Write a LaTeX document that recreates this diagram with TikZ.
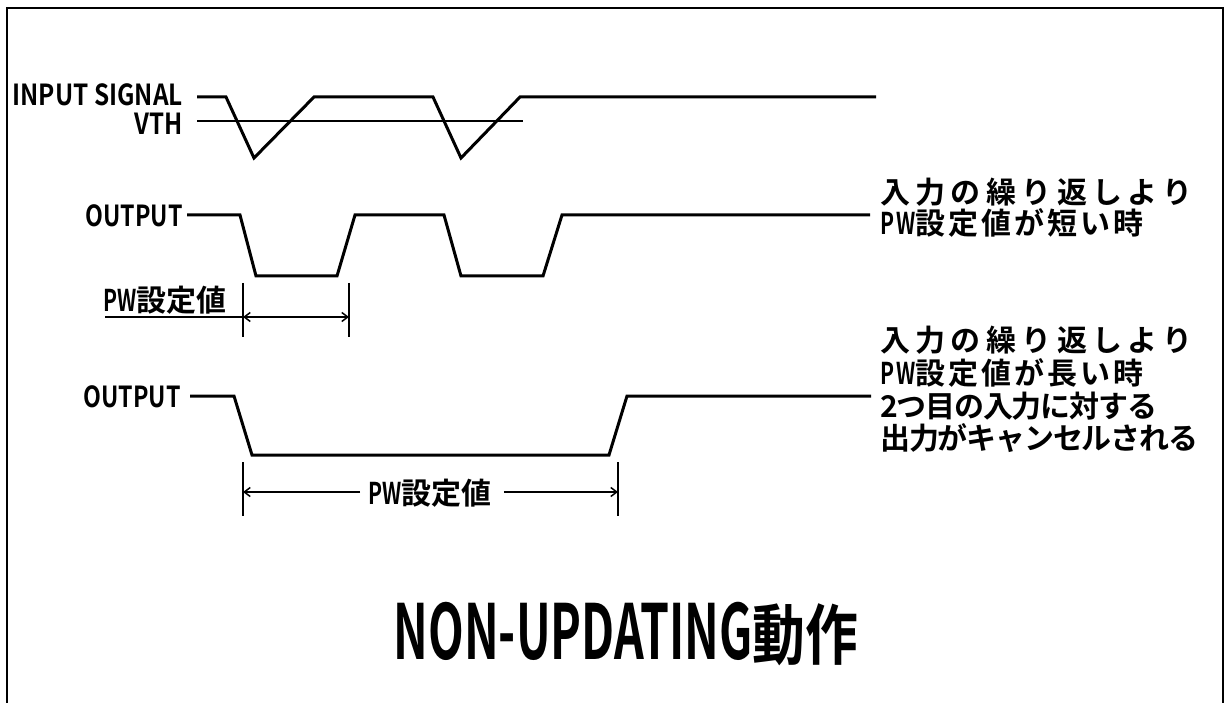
\documentclass[tikz,border=0pt]{standalone}
\usepackage{fontspec}
\setmainfont{Noto Sans CJK JP}[UprightFont={* Bold}]
\usetikzlibrary{arrows.meta}
\begin{document}
\begin{tikzpicture}[x=1pt,y=-1pt,
  sig/.style={line width=3pt, line join=miter},
  thinline/.style={line width=1.5pt},
  dimline/.style={line width=1.3pt},
  tip/.style={-{Straight Barb[length=6pt,width=9pt,line width=1.5pt]}},
  frameline/.style={line width=2.5pt},
  lat/.style={inner sep=0pt, font=\fontsize{29}{29}\selectfont},
  jpsmall/.style={inner sep=0pt, font=\fontsize{30}{30}\selectfont},
  jp/.style={inner sep=0pt, anchor=west, font=\fontsize{30}{30}\selectfont},
  titlefont/.style={inner sep=0pt, font=\fontsize{76}{76}\selectfont},
]
\useasboundingbox (0,0) rectangle (1231,703);
% frame
\draw[frameline] (7,703) -- (7,8) -- (1223,8) -- (1223,703);

% labels
\node[lat, anchor=east] (inlab) at (183,95) {\scalebox{0.84}[1]{INPUT SIGNAL}};
\node[lat, anchor=east] (vth) at (183,124) {\scalebox{0.83}[1]{VTH}};
\node[lat, anchor=east] (out1) at (183,216) {\scalebox{0.8}[1]{OUTPUT}};
\node[lat, anchor=east] (out2) at (181,397) {\scalebox{0.8}[1]{OUTPUT}};

% input signal
\coordinate (i0) at (197,97);
\coordinate (i1) at (226,97);
\coordinate (i2) at (254,158);
\coordinate (i3) at (314,97);
\coordinate (i4) at (433,97);
\coordinate (i5) at (461,158);
\coordinate (i6) at (520,97);
\coordinate (i7) at (876,97);
\draw[sig] (i0) -- (i1) -- (i2) -- (i3) -- (i4) -- (i5) -- (i6) -- (i7);
% threshold
\coordinate (v0) at (197,121);
\coordinate (v1) at (523,121);
\draw[thinline] (v0) -- (v1);

% output 1
\coordinate (a0) at (187,215);
\coordinate (a1) at (240,215);
\coordinate (a2) at (256,276);
\coordinate (a3) at (337,276);
\coordinate (a4) at (355,215);
\coordinate (a5) at (444,215);
\coordinate (a6) at (461,276);
\coordinate (a7) at (543,276);
\coordinate (a8) at (562,215);
\coordinate (a9) at (870,215);
\draw[sig] (a0) -- (a1) -- (a2) -- (a3) -- (a4) -- (a5) -- (a6) -- (a7) -- (a8) -- (a9);

% output 2
\coordinate (b0) at (190,396);
\coordinate (b1) at (234,396);
\coordinate (b2) at (252,455);
\coordinate (b3) at (609,455);
\coordinate (b4) at (627,396);
\coordinate (b5) at (871,396);
\draw[sig] (b0) -- (b1) -- (b2) -- (b3) -- (b4) -- (b5);

% dimension 1
\node[jpsmall] (pw1) at (165,300) {\scalebox{0.7}[1]{PW}設定値};
\coordinate (d1a) at (243,283);
\coordinate (d1b) at (243,337);
\coordinate (d1c) at (349,283);
\coordinate (d1d) at (349,337);
\draw[dimline] (d1a) -- (d1b);
\draw[dimline] (d1c) -- (d1d);
\coordinate (u0) at (105,317);
\coordinate (u1) at (243,317);
\coordinate (u2) at (349,317);
\draw[dimline] (u0) -- (u1);
\draw[dimline, tip] (u2) -- (u1);
\draw[dimline, tip] (u1) -- (u2);

% dimension 2
\node[jpsmall] (pw2) at (430,493) {\scalebox{0.7}[1]{PW}設定値};
\coordinate (e1a) at (243,462);
\coordinate (e1b) at (243,516);
\coordinate (e2a) at (618,462);
\coordinate (e2b) at (618,516);
\draw[dimline] (e1a) -- (e1b);
\draw[dimline] (e2a) -- (e2b);
\coordinate (w1) at (243,492);
\coordinate (w2) at (618,492);
\draw[dimline, tip] (pw2.west) ++(-8,-1) -- (w1);
\draw[dimline, tip] (pw2.east) ++(12,-1) -- (w2);

% notes
\node[jp] (n11) at (880,192) {\addfontfeature{LetterSpace=18}入力の繰り返しより};
\node[jp] (n12) at (880,223) {\addfontfeature{LetterSpace=10}\scalebox{0.7}[1]{PW}設定値が短い時};
\node[jp] (n21) at (880,340) {\addfontfeature{LetterSpace=18}入力の繰り返しより};
\node[jp] (n22) at (880,373) {\addfontfeature{LetterSpace=10}\scalebox{0.7}[1]{PW}設定値が長い時};
\node[jp] (n23) at (880,406) {\addfontfeature{LetterSpace=-4}2つ目の入力に対する};
\node[jp] (n24) at (880,438) {\addfontfeature{LetterSpace=-4}出力がキャンセルされる};

% title
\node[titlefont] (title) at (626,634) {\scalebox{0.61}[1]{NON-UPDATING}\scalebox{0.8}[1]{\fontsize{66}{66}\selectfont 動作}};
\end{tikzpicture}
\end{document}
